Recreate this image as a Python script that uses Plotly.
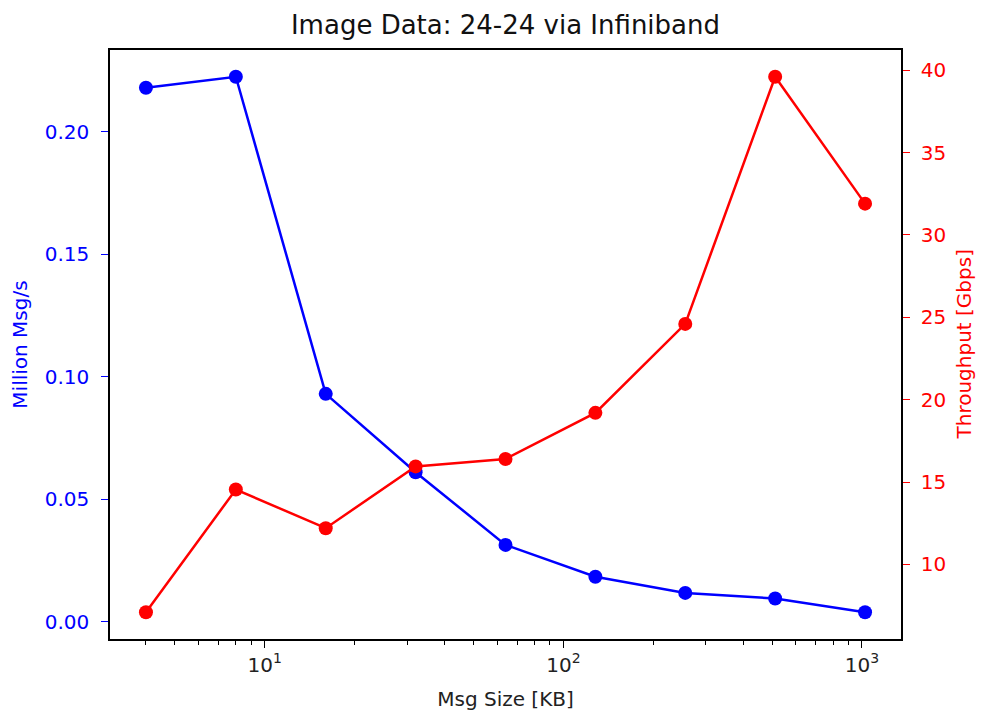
import numpy as np
import plotly.graph_objects as go

msg_size_kb = [4, 8, 16, 32, 64, 128, 256, 512, 1024]
million_msgs = [0.218, 0.2225, 0.093, 0.061, 0.0313, 0.0183, 0.0117, 0.0094, 0.0038]
throughput_gbps = [7.1, 14.55, 12.2, 15.95, 16.4, 19.2, 24.6, 39.6, 31.9]

x_tickvals = [10, 100, 1000]
x_ticktext = ["10<sup>1</sup>", "10<sup>2</sup>", "10<sup>3</sup>"]
y1_tickvals = [0.00, 0.05, 0.10, 0.15, 0.20]
y1_ticktext = ["0.00", "0.05", "0.10", "0.15", "0.20"]
y2_tickvals = [10, 15, 20, 25, 30, 35, 40]

FONT = "DejaVu Sans"


def pad_range(vals, frac=0.05):
    lo, hi = min(vals), max(vals)
    m = (hi - lo) * frac
    return [lo - m, hi + m]


lx = np.log10(msg_size_kb)
xr = pad_range(list(lx))
y1r = pad_range(million_msgs)
y2r = pad_range(throughput_gbps)

minor_vals = [m * 10 ** e for e in range(0, 4) for m in range(2, 10)]

fig = go.Figure()
fig.add_trace(go.Scatter(
    x=msg_size_kb, y=million_msgs, mode="lines+markers",
    line=dict(color="blue", width=2.5),
    marker=dict(color="blue", size=14),
    yaxis="y", showlegend=False,
))
fig.add_trace(go.Scatter(
    x=msg_size_kb, y=throughput_gbps, mode="lines+markers",
    line=dict(color="red", width=2.5),
    marker=dict(color="red", size=14),
    yaxis="y2", showlegend=False,
))

PLOT_L, PLOT_R = 110, 901

fig.update_layout(
    width=985, height=717,
    margin=dict(l=PLOT_L, r=985 - PLOT_R, t=50, b=78, autoexpand=False),
    paper_bgcolor="white", plot_bgcolor="white",
    font=dict(family=FONT, size=20, color="black"),
    title=dict(text="Image Data: 24-24 via Infiniband", x=0.5, xref="paper",
               xanchor="center", y=1 - 25 / 717, yanchor="middle",
               font=dict(family=FONT, size=26, color="#111111")),
    xaxis=dict(
        type="log", range=xr, showgrid=False, zeroline=False,
        showline=True, linecolor="black", linewidth=1.6, mirror=True,
        ticks="outside", ticklen=7, tickwidth=1.3, tickcolor="black",
        tickvals=x_tickvals, ticktext=x_ticktext,
        tickfont=dict(family=FONT, size=20, color="#222222"),
        minor=dict(ticks="outside", ticklen=4, tickwidth=1, tickcolor="black",
                   tickvals=minor_vals, showgrid=False),
        title=dict(text="Msg Size [KB]", standoff=16,
                   font=dict(family=FONT, size=20, color="#222222")),
        automargin=False,
    ),
    yaxis=dict(
        range=y1r, showgrid=False, zeroline=False,
        showline=True, linecolor="black", linewidth=1.6,
        ticks="outside", ticklen=7, tickwidth=1.3, tickcolor="blue",
        tickvals=y1_tickvals, ticktext=y1_ticktext, ticklabelstandoff=8,
        tickfont=dict(family=FONT, size=20, color="blue"),
        title=dict(text="Million Msg/s", standoff=12,
                   font=dict(family=FONT, size=20, color="blue")),
        automargin=False,
    ),
    yaxis2=dict(
        range=y2r, overlaying="y", side="right", showgrid=False, zeroline=False,
        showline=True, linecolor="black", linewidth=1.6,
        ticks="outside", ticklen=7, tickwidth=1.3, tickcolor="red",
        tickvals=y2_tickvals, ticklabelstandoff=7,
        tickfont=dict(family=FONT, size=20, color="red"),
        automargin=False,
    ),
    annotations=[dict(
        text="Throughput [Gbps]", textangle=-90,
        xref="paper", yref="paper",
        x=(963 - PLOT_L) / (PLOT_R - PLOT_L), y=0.5,
        xanchor="center", yanchor="middle", showarrow=False,
        font=dict(family=FONT, size=20, color="red"),
    )],
)

fig.write_html("out.html")
